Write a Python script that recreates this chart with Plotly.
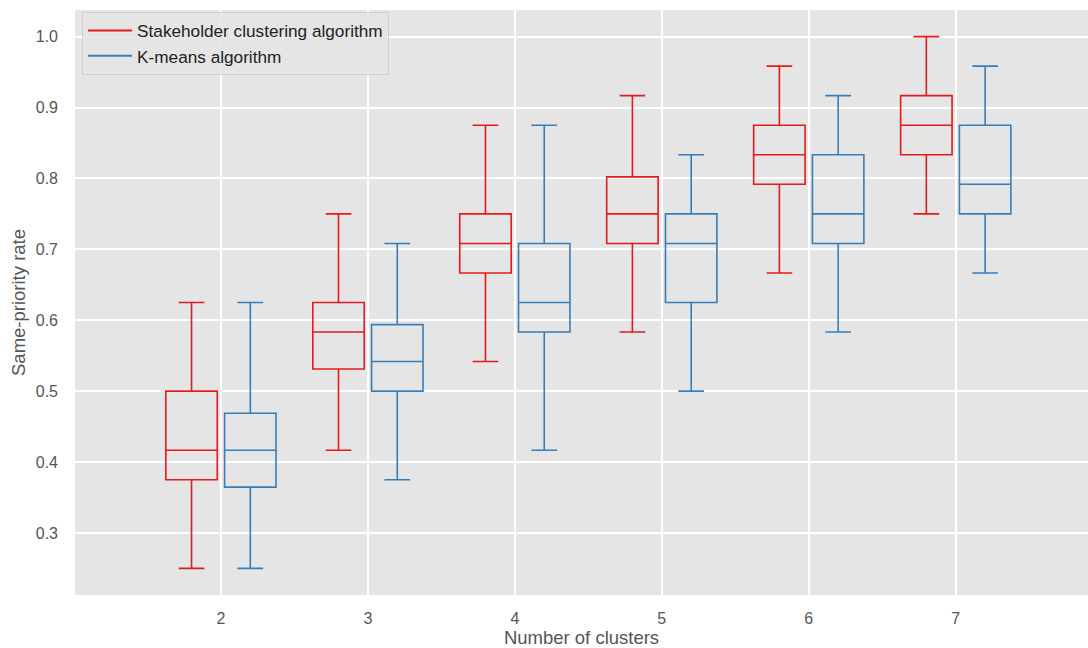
import plotly.graph_objects as go

clusters = [2, 3, 4, 5, 6, 7]

# Stakeholder clustering algorithm
sc_low = [0.25, 0.4167, 0.5417, 0.5833, 0.6667, 0.75]
sc_q1 = [0.375, 0.5313, 0.6667, 0.7083, 0.7917, 0.8333]
sc_med = [0.4167, 0.5833, 0.7083, 0.75, 0.8333, 0.875]
sc_q3 = [0.5, 0.625, 0.75, 0.8021, 0.875, 0.9167]
sc_high = [0.625, 0.75, 0.875, 0.9167, 0.9583, 1.0]

# K-means algorithm
km_low = [0.25, 0.375, 0.4167, 0.5, 0.5833, 0.6667]
km_q1 = [0.3646, 0.5, 0.5833, 0.625, 0.7083, 0.75]
km_med = [0.4167, 0.5417, 0.625, 0.7083, 0.75, 0.7917]
km_q3 = [0.4688, 0.5938, 0.7083, 0.75, 0.8333, 0.875]
km_high = [0.625, 0.7083, 0.875, 0.8333, 0.9167, 0.9583]

RED = "#e41a1c"
BLUE = "#377eb8"
names = ["Stakeholder clustering algorithm", "K-means algorithm"]

fig = go.Figure()
for name, color, lo, q1, md, q3, hi in [
    (names[0], RED, sc_low, sc_q1, sc_med, sc_q3, sc_high),
    (names[1], BLUE, km_low, km_q1, km_med, km_q3, km_high),
]:
    fig.add_trace(go.Box(
        x=clusters, q1=q1, median=md, q3=q3, lowerfence=lo, upperfence=hi,
        name=name, line=dict(color=color, width=1.6),
        fillcolor="rgba(0,0,0,0)", whiskerwidth=0.5, showlegend=False,
        hoverinfo="skip",
    ))
    fig.add_trace(go.Scatter(
        x=[None], y=[None], mode="lines", name=name,
        line=dict(color=color, width=2),
    ))

fig.update_layout(
    width=1088, height=648,
    margin=dict(l=75, r=0, t=10, b=53),
    paper_bgcolor="white",
    plot_bgcolor="#E5E5E5",
    boxmode="group", boxgap=0.2, boxgroupgap=0.125,
    font=dict(family="Liberation Sans, Arial, sans-serif", size=16, color="#555555"),
    legend=dict(
        x=0.007, y=0.997, xanchor="left", yanchor="top",
        bgcolor="rgba(229,229,229,0.85)", bordercolor="#D0D0D0", borderwidth=1,
        font=dict(size=17.2, color="#222222"),
        tracegroupgap=0, itemwidth=44,
    ),
    xaxis=dict(
        range=[1.007, 7.9], tickvals=clusters, ticktext=[str(c) for c in clusters],
        showgrid=True, gridcolor="white", gridwidth=1.6, zeroline=False,
        showline=False, ticks="", ticklabelstandoff=12,
        tickfont=dict(size=16, color="#555555"),
        title=dict(text="Number of clusters", font=dict(size=18.5, color="#555555"), standoff=4),
    ),
    yaxis=dict(
        range=[0.2125, 1.0375], tickvals=[0.3, 0.4, 0.5, 0.6, 0.7, 0.8, 0.9, 1.0],
        tickformat=".1f",
        showgrid=True, gridcolor="white", gridwidth=1.6, zeroline=False,
        showline=False, ticks="", ticklabelstandoff=16,
        tickfont=dict(size=16, color="#555555"),
        title=dict(text="Same-priority rate", font=dict(size=18.5, color="#555555"), standoff=5),
    ),
)

fig.write_html("out.html")
